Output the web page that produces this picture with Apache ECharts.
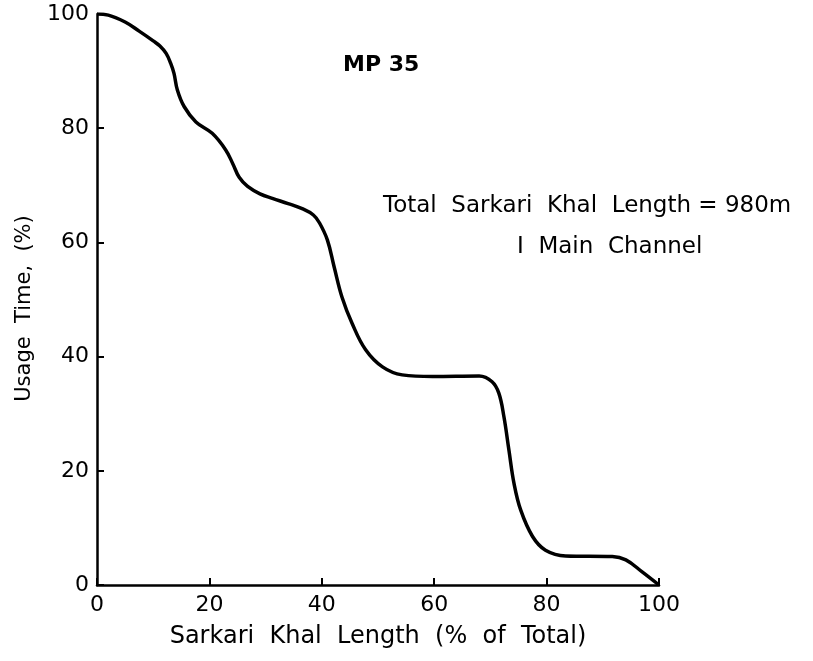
<!DOCTYPE html>
<html>
<head>
<meta charset="utf-8">
<script src="https://cdn.jsdelivr.net/npm/echarts@6/dist/echarts.min.js"></script>
<style>
  html, body { margin: 0; padding: 0; background: #fff; }
  #chart { width: 813px; height: 661px; }
</style>
</head>
<body>
<div id="chart"></div>
<script>
// Cumulative usage-time curve along the sarkari khal
const lengthPct = [0, 2, 5, 7.5, 10, 11.2, 12.3, 13.1, 13.7, 14.3, 15.5, 17.6, 20.5, 22.9, 24.2, 25.3, 26.8, 29.0, 31.2, 34, 36.5, 38.5, 39.6, 41.0, 42.2, 43.6, 45.4, 47.8, 50.8, 54.3, 59.7, 68.0, 70.3, 71.5, 72.4, 73.3, 74.2, 75.4, 77.5, 79.8, 83.4, 91.7, 94.1, 97.0, 100];
const usagePct  = [100, 99.8, 98.6, 97.0, 95.3, 94.4, 93.1, 91.4, 89.6, 86.7, 83.8, 81.1, 79.1, 76.2, 73.7, 71.4, 69.8, 68.5, 67.7, 66.8, 65.9, 64.8, 63.4, 60.4, 55.7, 50.4, 45.8, 41.2, 38.2, 36.8, 36.5, 36.6, 35.6, 33.6, 29.5, 23.6, 17.8, 13.1, 8.5, 6.1, 5.1, 5.0, 4.4, 2.3, 0];
const xTicks = [0, 20, 40, 60, 80, 100];
const yTicks = [0, 20, 40, 60, 80, 100];

const FONT = 'DejaVu Sans';
const chart = echarts.init(document.getElementById('chart'));

chart.setOption({
  backgroundColor: '#fff',
  animation: false,
  grid: { left: 97, right: 154, top: 14, bottom: 76 },
  xAxis: {
    type: 'value',
    min: xTicks[0], max: xTicks[xTicks.length - 1], interval: 20,
    name: 'Sarkari  Khal  Length  (%  of  Total)',
    nameLocation: 'middle', nameGap: 40,
    nameTextStyle: { fontFamily: FONT, fontSize: 24, color: '#000' },
    axisLine: { lineStyle: { color: '#000', width: 2.5 } },
    axisTick: { inside: true, length: 7, lineStyle: { color: '#000', width: 2 } },
    axisLabel: { fontFamily: FONT, fontSize: 22, color: '#000', margin: 9 },
    splitLine: { show: false }
  },
  yAxis: {
    type: 'value',
    min: yTicks[0], max: yTicks[yTicks.length - 1], interval: 20,
    name: 'Usage  Time,  (%)',
    nameLocation: 'middle', nameGap: 62, nameRotate: 90,
    nameTextStyle: { fontFamily: FONT, fontSize: 21, color: '#000', padding: [0, 18, 0, 0] },
    axisLine: { lineStyle: { color: '#000', width: 2.5 } },
    axisTick: { inside: true, length: 7, lineStyle: { color: '#000', width: 2 } },
    axisLabel: { fontFamily: FONT, fontSize: 22, color: '#000', margin: 8 },
    splitLine: { show: false }
  },
  series: [{
    type: 'line',
    data: lengthPct.map((x, i) => [x, usagePct[i]]),
    showSymbol: false,
    smooth: 0.4,
    lineStyle: { color: '#000', width: 3.5 }
  }],
  graphic: [
    { type: 'text', left: 343, top: 54,
      style: { text: 'MP 35', font: 'bold 22px "DejaVu Sans"', fill: '#000' } },
    { type: 'text', left: 383, top: 195,
      style: { text: 'Total  Sarkari  Khal  Length = 980m', font: '23px "DejaVu Sans"', fill: '#000' } },
    { type: 'text', left: 517, top: 236,
      style: { text: 'I  Main  Channel', font: '23px "DejaVu Sans"', fill: '#000' } }
  ]
});
</script>
</body>
</html>
